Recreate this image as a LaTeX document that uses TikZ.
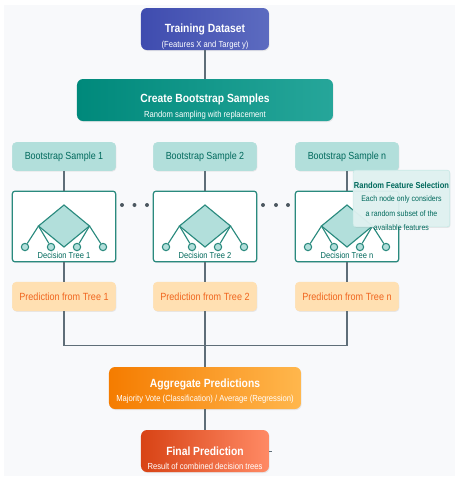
\documentclass[tikz,border=0pt]{standalone}
\usepackage{fontspec}
\setmainfont[FakeStretch=0.87]{Liberation Sans}
\usetikzlibrary{shadows}
\definecolor{panelbg}{HTML}{F8F9FB}
\definecolor{tealdark}{HTML}{2A8A7E}
\definecolor{tealtext}{HTML}{00695C}
\definecolor{tealpale}{HTML}{B2DFDB}
\definecolor{calloutbg}{HTML}{E0F2F1}
\definecolor{wirecol}{HTML}{5F6E78}
\definecolor{predfill}{HTML}{FFE0B2}
\definecolor{predtext}{HTML}{F0651E}
\definecolor{indigoA}{HTML}{3F4CAF}
\definecolor{indigoB}{HTML}{5C6BC0}
\definecolor{tealA}{HTML}{00897B}
\definecolor{tealB}{HTML}{26A69A}
\definecolor{orangeA}{HTML}{F57C00}
\definecolor{orangeB}{HTML}{FFB74D}
\definecolor{redA}{HTML}{D84315}
\definecolor{redB}{HTML}{FF8A65}
\tikzset{
 softshadow/.style={drop shadow={shadow xshift=0.5pt,shadow yshift=-0.8pt,opacity=0.15}},
 mainbox/.style={rounded corners=4.5pt,align=center,softshadow,minimum height=31.5pt,inner sep=0pt},
 samplebox/.style={rounded corners=3pt,fill=tealpale,draw=tealpale,text=tealtext,minimum width=77.5pt,minimum height=21pt,inner sep=0pt,font=\fontsize{7.7}{10}\selectfont,softshadow},
 predbox/.style={rounded corners=3pt,fill=predfill,draw=predfill,text=predtext,minimum width=77.5pt,minimum height=21.5pt,inner sep=0pt,font=\fontsize{7.8}{10}\selectfont,softshadow},
 treebox/.style={rounded corners=2pt,fill=white,draw=tealdark,line width=0.9pt,minimum width=77.5pt,minimum height=53pt,inner sep=0pt,softshadow},
 leafnode/.style={circle,fill=tealpale,draw=tealdark,line width=0.8pt,minimum size=5.5pt,inner sep=0pt},
 wire/.style={wirecol,line width=1.2pt},
 branch/.style={tealdark,line width=0.85pt},
 dotnode/.style={circle,fill=wirecol!80!black,minimum size=3pt,inner sep=0pt},
 bigtitle/.style={text=white,font=\bfseries\fontsize{8.9}{11}\selectfont},
 subtitle/.style={text=white,font=\fontsize{6.6}{8}\selectfont},
 calloutline/.style={text=tealtext,font=\fontsize{6.05}{8}\selectfont}
}
\begin{document}
\begin{tikzpicture}[x=0.75pt,y=-0.75pt]
\useasboundingbox (0,0) rectangle (455,480);
\fill[white] (0,0) rectangle (455,480);
\fill[panelbg] (4,5) rectangle (455,476);
% main boxes
\node[mainbox,minimum width=96pt,left color=indigoA,right color=indigoB] (train) at (205,29) {};
\node[mainbox,minimum width=192pt,left color=tealA,right color=tealB] (boot) at (205,100) {};
\node[mainbox,minimum width=144pt,left color=orangeA,right color=orangeB] (aggr) at (205,388) {};
\node[mainbox,minimum width=96pt,left color=redA,right color=redB] (final) at (205,451) {};
\node[bigtitle] (trainT) at (205,29) {Training Dataset};
\node[subtitle] (trainS) at (205,45) {(Features X and Target y)};
\node[bigtitle] (bootT) at (205,99) {Create Bootstrap Samples};
\node[subtitle] (bootS) at (205,115) {Random sampling with replacement};
\node[bigtitle] (aggrT) at (205,384) {Aggregate Predictions};
\node[subtitle] (aggrS) at (205,399) {Majority Vote (Classification) / Average (Regression)};
\node[bigtitle] (finalT) at (205,451) {Final Prediction};
\node[subtitle] (finalS) at (205,466) {Result of combined decision trees};
% three columns
\foreach \cx/\lab/\nm in {64/1/a,205/2/b,347/n/c} {
 \node[samplebox] (sample\nm) at (\cx,156.5) {Bootstrap Sample \lab};
 \node[treebox] (tree\nm) at (\cx,226.5) {};
 \node[predbox] (pred\nm) at (\cx,296.5) {Prediction from Tree \lab};
 \draw[wire] (sample\nm)--(tree\nm);
 \draw[wire] (tree\nm)--(pred\nm);
 \draw[branch,fill=tealpale] (\cx,205)--(\cx+25.5,226)--(\cx,247)--(\cx-25.5,226)--cycle;
 \node[leafnode] (leaf\nm1) at (\cx-39,247) {};
 \node[leafnode] (leaf\nm2) at (\cx-13,247) {};
 \node[leafnode] (leaf\nm3) at (\cx+13,247) {};
 \node[leafnode] (leaf\nm4) at (\cx+39,247) {};
 \draw[branch] (\cx-25.5,226)--(leaf\nm1);
 \draw[branch] (\cx-25.5,226)--(leaf\nm2);
 \draw[branch] (\cx+25.5,226)--(leaf\nm3);
 \draw[branch] (\cx+25.5,226)--(leaf\nm4);
 \node[text=tealtext,font=\fontsize{6.5}{8}\selectfont] (label\nm) at (\cx,255.5) {Decision Tree \lab};
}
\foreach \dx in {122,134.5,147,263,276,288} {
 \node[dotnode] (dot\dx) at (\dx,205) {};
}
% merge lines
\coordinate (merge) at (205,345.5);
\coordinate (stub) at (272,451);
\draw[wire] (preda.south)|-(merge)-|(predc.south);
\draw[wire] (predb)--(merge);
\draw[wire] (merge)--(aggr);
\draw[wire] (train)--(boot);
\draw[wire] (aggr)--(final);
\draw[wirecol,line width=0.5pt] (final.east)--(stub);
% callout
\node[rounded corners=2pt,fill=calloutbg,fill opacity=0.95,draw=tealpale!70,line width=0.5pt,minimum width=72.5pt,minimum height=42.5pt,inner sep=0pt,softshadow] (callout) at (401.5,198.5) {};
\node[text=tealtext,font=\bfseries\fontsize{6.5}{8}\selectfont] (calloutT) at (401.5,185) {Random Feature Selection};
\node[calloutline] (calloutA) at (401.5,199) {Each node only considers};
\node[calloutline] (calloutB) at (401.5,213.5) {a random subset of the};
\node[calloutline] (calloutC) at (401.5,227.5) {available features};
\end{tikzpicture}
\end{document}
